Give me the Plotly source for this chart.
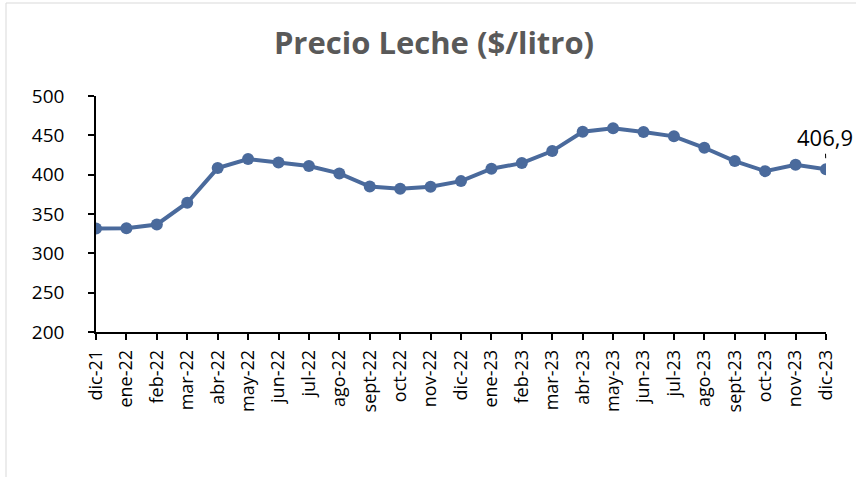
import plotly.graph_objects as go

categories = ["dic-21", "ene-22", "feb-22", "mar-22", "abr-22", "may-22", "jun-22",
              "jul-22", "ago-22", "sept-22", "oct-22", "nov-22", "dic-22", "ene-23",
              "feb-23", "mar-23", "abr-23", "may-23", "jun-23", "jul-23", "ago-23",
              "sept-23", "oct-23", "nov-23", "dic-23"]
precio = [331.6, 331.8, 336.7, 364.3, 408.4, 419.8, 415.6, 410.9, 401.6, 385.0,
          382.0, 384.6, 391.8, 407.5, 414.7, 430.0, 454.6, 458.9, 454.2, 448.7,
          434.2, 417.3, 404.5, 412.6, 406.9]
y_ticks = [200, 250, 300, 350, 400, 450, 500]
last_label = "406,9"

W, H = 856, 477
L, R, T, B = 96, 30, 96, 145
pw, ph = W - L - R, H - T - B

fig = go.Figure()
fig.add_trace(go.Scatter(
    x=categories, y=precio, mode="lines+markers",
    line=dict(color="#4a6a9c", width=4),
    marker=dict(color="#4a6a9c", size=12),
    hoverinfo="x+y", showlegend=False,
))

fig.add_annotation(
    x=categories[-1], y=precio[-1], text=last_label,
    showarrow=True, arrowhead=0, arrowwidth=1, arrowcolor="#000000",
    ax=-1, ay=-32, standoff=11,
    font=dict(family="Open Sans", size=22, color="#000000"),
)

# chart area border (light gray)
fig.add_shape(type="rect", xref="paper", yref="paper",
              x0=(6 - L) / pw, x1=1.5, y0=-1.5, y1=1 + (T - 3) / ph,
              line=dict(color="#d9d9d9", width=1), fillcolor="rgba(0,0,0,0)",
              layer="below")

fig.update_layout(
    width=W, height=H,
    margin=dict(l=L, r=R, t=T, b=B, autoexpand=False),
    paper_bgcolor="white", plot_bgcolor="white",
    title=dict(text="<b>Precio Leche ($/litro)</b>", x=434 / W, xref="container",
               xanchor="center", y=1 - 43 / H, yref="container", yanchor="middle",
               font=dict(family="Open Sans", size=31, color="#595959")),
    font=dict(family="Open Sans", color="#000000"),
)
fig.update_xaxes(
    type="category", range=[0, len(categories) - 1],
    showgrid=False, zeroline=False,
    showline=True, linecolor="#000000", linewidth=1.5,
    ticks="outside", ticklen=6, tickwidth=1.5, tickcolor="#000000",
    tickangle=-90, tickfont=dict(family="Open Sans", size=18, color="#000000"),
    ticklabelstandoff=3,
    fixedrange=True,
)
fig.update_yaxes(
    range=[200, 500], tickvals=y_ticks, ticktext=[str(v) for v in y_ticks],
    showgrid=False, zeroline=False,
    showline=True, linecolor="#000000", linewidth=1.5,
    ticks="outside", ticklen=6, tickwidth=1.5, tickcolor="#000000",
    tickfont=dict(family="Open Sans", size=19, color="#000000"),
    ticklabelstandoff=20,
    fixedrange=True,
)

fig.write_html(
    "out.html",
    config={"displayModeBar": False},
    post_script="document.body.style.margin='0';document.body.style.overflow='hidden';",
)
